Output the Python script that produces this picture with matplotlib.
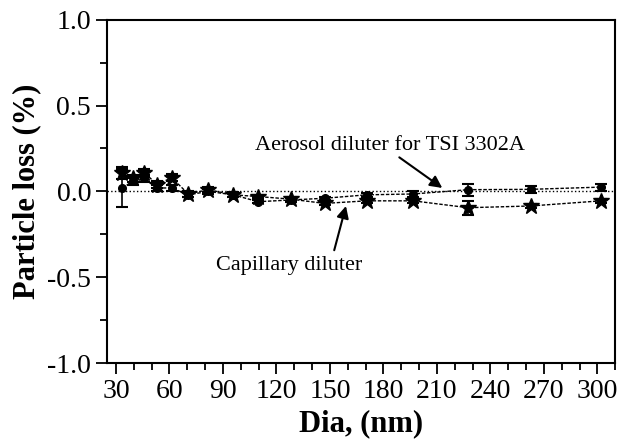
import numpy as np
import matplotlib
matplotlib.use("Agg")
import matplotlib.pyplot as plt
from matplotlib.ticker import MultipleLocator, FormatStrFormatter

plt.rcParams['font.family'] = ['Liberation Serif', 'DejaVu Serif']
plt.rcParams['axes.unicode_minus'] = False

# capillary diluter (stars)
dia_cap = [33.6, 39.7, 46, 53, 61.3, 70.6, 81.8, 95.8, 109.8, 128, 147, 170.6, 196.7, 227.5, 262.5, 302]
loss_cap = [0.105, 0.077, 0.11, 0.04, 0.08, -0.015, 0.01, -0.02, -0.03, -0.045,
            -0.07, -0.055, -0.055, -0.095, -0.085, -0.055]
err_cap = [0.035, 0.02, 0.02, 0.02, 0.02, 0.015, 0.015, 0.015, 0.01, 0.01,
           0.01, 0.015, 0.015, 0.04, 0.01, 0.01]

# aerosol diluter for TSI 3302A (circles)
dia_aer = [33.6, 39.7, 46, 53, 61.3, 70.6, 81.8, 95.8, 109.8, 128, 147, 170.6, 196.7, 227.5, 262.5, 302]
loss_aer = [0.02, 0.06, 0.077, 0.02, 0.02, -0.02, 0.0, -0.02, -0.06, -0.05,
            -0.04, -0.02, -0.015, 0.01, 0.012, 0.025]
err_aer = [0.11, 0.02, 0.02, 0.02, 0.02, 0.015, 0.015, 0.01, 0.01, 0.01,
           0.01, 0.01, 0.02, 0.035, 0.02, 0.02]

fig = plt.figure(figsize=(6.33, 4.4), dpi=100)
ax = fig.add_axes([0.169, 0.175, 0.803, 0.78])

ax.axhline(0, color='black', linestyle=':', linewidth=1.0)

ax.errorbar(dia_aer, loss_aer, yerr=err_aer, fmt='o', color='black', markersize=5.5,
            linestyle=(0, (2.5, 1.2)), linewidth=1.0, capsize=4.5, elinewidth=1.2,
            capthick=1.5)
ax.errorbar(dia_cap, loss_cap, yerr=err_cap, fmt='*', color='black', markersize=12,
            linestyle=(0, (2.5, 1.2)), linewidth=1.0, capsize=4.5, elinewidth=1.2,
            capthick=1.5)

ax.annotate("Aerosol diluter for TSI 3302A", xy=(213, 0.02), xytext=(108, 0.27),
            fontsize=16, va='center', ha='left',
            arrowprops=dict(arrowstyle='-|>', color='black', lw=1.5,
                            shrinkA=0, shrinkB=0, mutation_scale=18,
                            relpos=(0.52, 0.0)))
ax.annotate("Capillary diluter", xy=(159, -0.085), xytext=(86, -0.43),
            fontsize=16, va='center', ha='left',
            arrowprops=dict(arrowstyle='-|>', color='black', lw=1.5,
                            shrinkA=2, shrinkB=0, mutation_scale=18,
                            relpos=(0.8, 1.0)))

ax.set_xlim(25, 310)
ax.set_ylim(-1.0, 1.0)
ax.xaxis.set_major_locator(MultipleLocator(30))
ax.xaxis.set_minor_locator(MultipleLocator(10))
ax.yaxis.set_major_locator(MultipleLocator(0.5))
ax.yaxis.set_minor_locator(MultipleLocator(0.25))
ax.yaxis.set_major_formatter(FormatStrFormatter('%.1f'))
ax.tick_params(which='major', length=8, width=1.3, labelsize=20)
ax.tick_params(which='minor', length=5, width=1.3)
for s in ax.spines.values():
    s.set_linewidth(1.5)

ax.set_xlabel("Dia, (nm)", fontsize=22, fontweight='bold')
ax.set_ylabel("Particle loss (%)", fontsize=22, fontweight='bold')

fig.savefig("out.png", dpi=100)
